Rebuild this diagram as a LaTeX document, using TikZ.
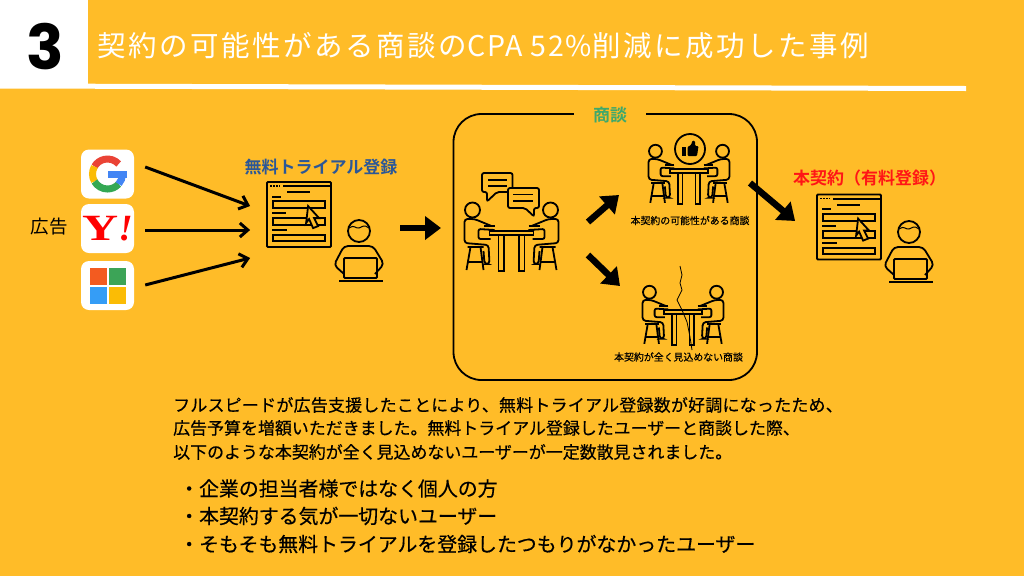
\documentclass[tikz,border=0pt]{standalone}
\usepackage{fontspec}
\usetikzlibrary{arrows.meta,positioning,calc}
\setmainfont{Noto Sans CJK JP}
\newfontfamily\jpreg{Noto Sans CJK JP}
\newfontfamily\jpmed[FakeBold=0.4]{Noto Sans CJK JP}
\newfontfamily\jpbold{Noto Sans CJK JP Bold}
\newfontfamily\numfont{Poppins Bold}
\newfontfamily\yahoofont[FakeStretch=1.35]{Liberation Serif Bold}
\newfontfamily\yahoomark{Liberation Serif Bold Italic}
\definecolor{bgyellow}{HTML}{FFBC28}
\definecolor{trialblue}{HTML}{2B5797}
\definecolor{talkgreen}{HTML}{3FA86B}
\definecolor{paidred}{HTML}{FF1616}
\definecolor{gred}{HTML}{EA4335}
\definecolor{gyellow}{HTML}{FBBC05}
\definecolor{ggreen}{HTML}{34A853}
\definecolor{gblue}{HTML}{4285F4}
\tikzset{
  logobox/.style={fill=white,rounded corners=8pt,minimum width=53pt,minimum height=49pt,inner sep=0pt},
  formbox/.style={draw,line width=1.8pt,rounded corners=1pt,minimum width=64pt,minimum height=65pt,inner sep=0pt},
  line/.style={line width=1.8pt},
  adarrow/.style={-{Straight Barb[length=8pt,width=14pt]},line width=3pt},
  bigarrow/.style={-{Triangle[length=16pt,width=23pt]},line width=6.5pt},
  bodytext/.style={anchor=west,inner sep=0pt,font=\jpmed\fontsize{16.95}{20}\selectfont},
  listtext/.style={anchor=west,inner sep=0pt,font=\jpmed\fontsize{19.9}{23}\selectfont},
  caption/.style={inner sep=0pt,font=\jpmed\fontsize{9.9}{12}\selectfont},
  seated/.pic={
    \draw[line] (-39,-23) circle (7.5);
    \draw[line,rounded corners=3pt] (-20,-7) -- (-37,-14) -- (-47,-14) -- (-47,10) -- (-23,12) -- (-22,31) -- (-27,31) -- (-28,18);
    \draw[line,rounded corners=2pt] (-17,-3) -- (-33,-4) -- (-33,6) -- (-21,6);
    \draw[line] (-17,-7) -- (-28,-7);
    \draw[line] (-44,14) -- (-28,14) (-41,14) -- (-45,37) (-31,14) -- (-28,37) (-43,29) -- (-30,29);
  },
  meeting/.pic={
    \draw[line] (-22,-2) rectangle (22,2);
    \draw[line] (-13,2) rectangle (-7.5,38) (7.5,2) rectangle (13,38);
    \pic[transform shape] {seated};
    \pic[transform shape,xscale=-1] {seated};
  },
  laptopuser/.pic={
    \draw[line] (0,0) circle (11);
    \draw[line width=1pt] (-10,-3) .. controls (-5,-7) and (-3,-2) .. (0,-3) .. controls (3,-4) and (5,-7) .. (10,-3);
    \draw[line,rounded corners=4pt] (-15,43) -- (-25,34) -- (-15,15) -- (14,15) -- (25,33) -- (16,43);
    \draw[line,rounded corners=1pt] (-15,27) rectangle (18,47);
    \draw[line] (-20,50) -- (24,50);
  },
  formdetail/.pic={
    \draw[line] (17,5) -- (64,5) (21,11) -- (44,11) (6,15.5) -- (15,15.5) (6,32) -- (20,32) (6,49) -- (21,49);
    \draw[line width=1.5pt,dash pattern=on 1.5pt off 1.5pt] (4,5) -- (14,5);
    \draw[line] (6.5,20) rectangle (58.5,27) (6.5,37) rectangle (58.5,44) (6.5,54) rectangle (58.5,60);
    \draw[line,fill=bgyellow] (42,25) -- (53,37) -- (48,37) -- (52,45) -- (47,47) -- (43,38) -- (40,42) -- cycle;
  },
}
\begin{document}
\begin{tikzpicture}[x=1pt,y=-1pt]
  \useasboundingbox (0,0) rectangle (1024,576);
  \fill[bgyellow] (0,0) rectangle (1024,576);
  % header
  \fill[white] (0,0) rectangle (88,88);
  \fill[white] (0,83.5) -- (966,86) -- (966,91) -- (0,88.5) -- cycle;
  \node (number) at (45,47) [inner sep=0pt,font=\numfont\fontsize{62}{62}\selectfont] {3};
  \node (title) at (97,46) [anchor=west,inner sep=0pt,text=white,font=\jpreg\fontsize{28.5}{30}\selectfont] {\addfontfeatures{LetterSpace=9}契約の可能性がある商談の{\addfontfeatures{LetterSpace=6}CPA 52\%}削減に成功した事例};
  % ads
  \node (adlabel) at (49,227) [inner sep=0pt,font=\jpreg\fontsize{18.5}{20}\selectfont] {広告};
  \node (google) at (107.5,174) [logobox] {};
  \node (yahoo) at (107.5,228.5) [logobox] {};
  \node (msads) at (107.5,285.5) [logobox] {};
  \draw[gred,line width=7pt] (google) ++(42:15pt) arc[start angle=42,end angle=150,radius=15pt];
  \draw[gyellow,line width=7pt] (google) ++(150:15pt) arc[start angle=150,end angle=210,radius=15pt];
  \draw[ggreen,line width=7pt] (google) ++(210:15pt) arc[start angle=210,end angle=318,radius=15pt];
  \draw[gblue,line width=7pt] (google) ++(318:15pt) arc[start angle=318,end angle=360,radius=15pt];
  \fill[gblue] ($(google)+(0,-3.5)$) rectangle ($(google)+(19,3.5)$);
  \node at (yahoo) [text=red,inner sep=0pt,font=\fontsize{37}{37}\selectfont] {{\yahoofont Y}{\yahoomark !}};
  \fill[gred!60!orange] ($(msads)+(-18,-18)$) rectangle ($(msads)+(-1,-1)$);
  \fill[ggreen!90!gray] ($(msads)+(1,-18)$) rectangle ($(msads)+(18,-1)$);
  \fill[gblue!80!cyan] ($(msads)+(-18,1)$) rectangle ($(msads)+(-1,18)$);
  \fill[gyellow] ($(msads)+(1,1)$) rectangle ($(msads)+(18,18)$);
  % trial
  \node (triallabel) at (321,167) [inner sep=0pt,text=trialblue,font=\jpbold\fontsize{17}{20}\selectfont] {無料トライアル登録};
  \node (trialform) at (299,214.5) [formbox] {};
  \pic at (trialform.north west) {formdetail};
  \coordinate (trialuser) at (359,231);
  \pic at (trialuser) {laptopuser};
  \draw[adarrow] ([shift={(11,-7)}]google.east) -- ([shift={(-16,-8.5)}]trialform.west);
  \draw[adarrow] ([shift={(11,1.5)}]yahoo.east) -- ([shift={(-16,15.5)}]trialform.west);
  \draw[adarrow] ([shift={(11,-0.5)}]msads.east) -- ([shift={(-16,43.5)}]trialform.west);
  % talks
  \draw[line width=1.8pt,rounded corners=28pt] (453.5,114) rectangle (757,380);
  \node (talklabel) at (610,115) [fill=bgyellow,inner xsep=19pt,inner ysep=1pt,text=talkgreen,font=\jpbold\fontsize{17}{18}\selectfont] {商談};
  \coordinate (talk) at (511.5,233);
  \pic at (talk) {meeting};
  \draw[line,rounded corners=2pt] (482,173) -- (512.5,173) -- (512.5,192) -- (497,192) -- (487,201.5) -- (487,192) -- (482,192) -- cycle;
  \draw[line] (488,180) -- (506.5,180) (488,186) -- (506.5,186);
  \draw[line,fill=bgyellow,rounded corners=2pt] (508,188) -- (539,188) -- (539,208) -- (534,208) -- (534,216.5) -- (525,208) -- (508,208) -- cycle;
  \draw[line] (513,194.5) -- (533,194.5) (513,201) -- (533,201);
  \coordinate (agreed) at (689,171);
  \pic[scale=.86] at (agreed) {meeting};
  \draw[line] (690,149) circle (15);
  \fill (682,147) rectangle (686,156);
  \fill[rounded corners=1pt] (687.5,147) -- (691,145) -- (692.5,140.5) -- (695,141) -- (695,146) -- (698.5,146) -- (697,156) -- (687.5,156) -- cycle;
  \node (agreedcap) at (690,220.5) [caption] {本契約の可能性がある商談};
  \coordinate (failed) at (683,312);
  \pic[scale=.86] at (failed) {meeting};
  \draw[line width=.8pt] (680,266) -- (682,275) -- (680,283) -- (682,290) -- (677,300) -- (682,310) -- (687,322) -- (690,337) -- (692,350);
  \node (failedcap) at (678.5,357) [caption] {本契約が全く見込めない商談};
  \draw[bigarrow] ([shift={(41,-3)}]trialuser) -- ([shift={(-70.5,-5)}]talk);
  \draw[bigarrow] ([shift={(76.5,-11)}]talk) -- ([shift={(-70,24)}]agreed);
  \draw[bigarrow] ([shift={(76.5,22)}]talk) -- ([shift={(-63,-26)}]failed);
  % paid
  \node (paidlabel) at (869.5,178) [inner sep=0pt,text=paidred,font=\jpbold\fontsize{17}{20}\selectfont] {本契約（有料登録）};
  \node (paidform) at (849,227) [formbox] {};
  \pic at (paidform.north west) {formdetail};
  \coordinate (paiduser) at (909,232);
  \pic at (paiduser) {laptopuser};
  \draw[bigarrow] ([shift={(61,12)}]agreed) -- ([shift={(-21,-6)}]paidform.west);
  % text
  \node (body1) at (173,405) [bodytext] {\addfontfeatures{LetterSpace=1.5}フルスピードが広告支援したことにより、無料トライアル登録数が好調になったため、};
  \node (body2) at (173,428) [bodytext] {広告予算を増額いただきました。無料トライアル登録したユーザーと商談した際、};
  \node (body3) at (173,452) [bodytext] {以下のような本契約が全く見込めないユーザーが一定数散見されました。};
  \node (item1) at (179,488.5) [listtext] {・企業の担当者様ではなく個人の方};
  \node (item2) at (179,516) [listtext] {・本契約する気が一切ないユーザー};
  \node (item3) at (179,544) [listtext] {・そもそも無料トライアルを登録したつもりがなかったユーザー};
\end{tikzpicture}
\end{document}
